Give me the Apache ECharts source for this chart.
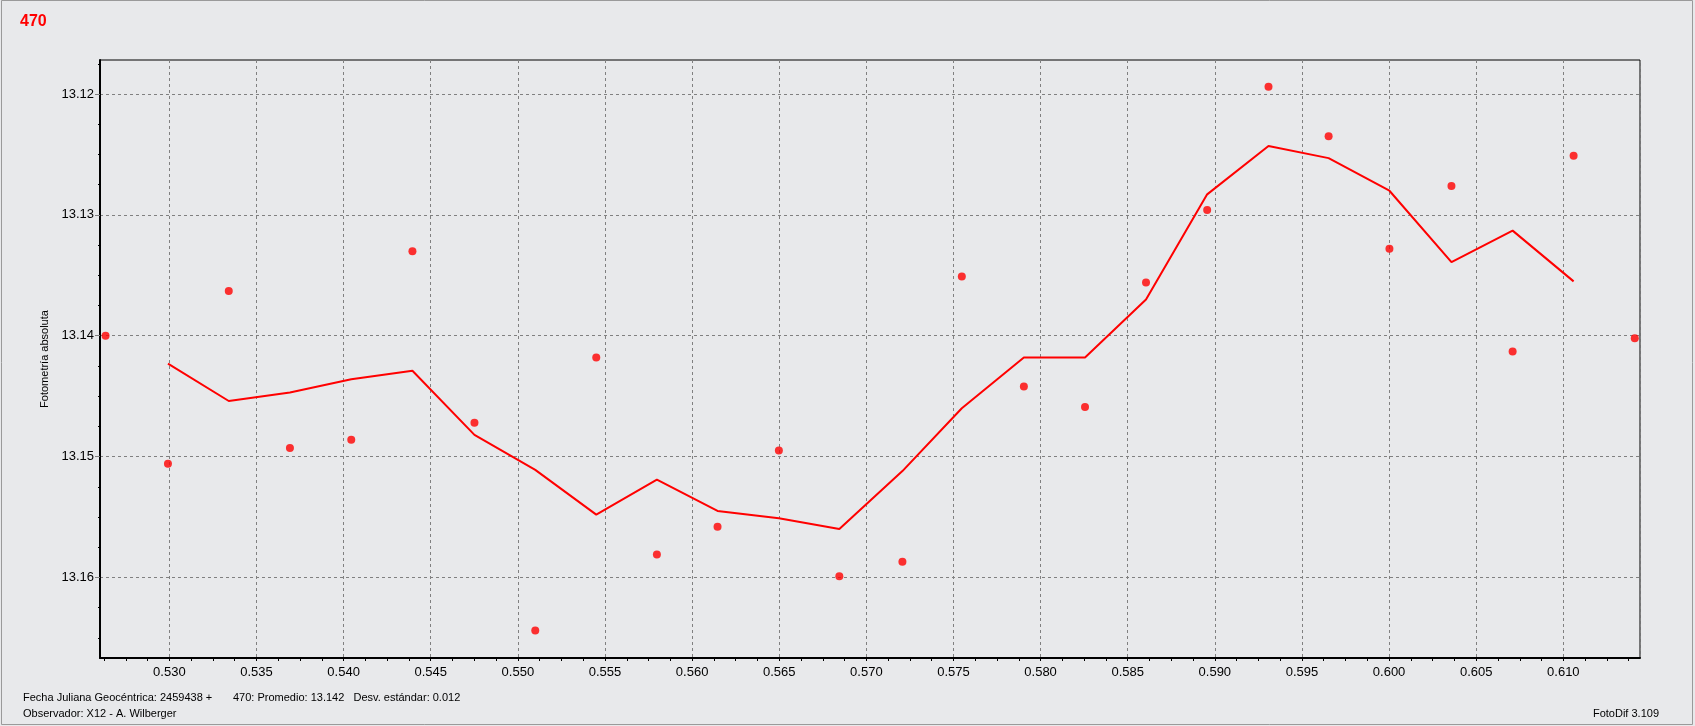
<!DOCTYPE html>
<html>
<head>
<meta charset="utf-8">
<style>
  html, body { margin: 0; padding: 0; background: #E8E9EB; }
  #chart { width: 1695px; height: 726px; }
</style>
<script src="https://cdn.jsdelivr.net/npm/echarts@6/dist/echarts.min.js"></script>
</head>
<body>
<div id="chart"></div>
<script>
// ---- data ----
const pointX = [0.52634, 0.52992, 0.53341, 0.53692, 0.54044, 0.54395, 0.54751, 0.55100, 0.55450, 0.55798,
                0.56146, 0.56498, 0.56845, 0.57207, 0.57548, 0.57904, 0.58255, 0.58605, 0.58956, 0.59308,
                0.59653, 0.60002, 0.60358, 0.60709, 0.61059, 0.61410];
const pointY = [13.1400, 13.1506, 13.1363, 13.1493, 13.1486, 13.1330, 13.1472, 13.1644, 13.1418, 13.1581,
                13.1558, 13.1495, 13.1599, 13.1587, 13.1351, 13.1442, 13.1459, 13.1356, 13.1296, 13.1194,
                13.1235, 13.1328, 13.1276, 13.1413, 13.1251, 13.1402];
const lineX = [0.52992, 0.53341, 0.53692, 0.54044, 0.54395, 0.54751, 0.55100, 0.55450, 0.55798, 0.56146,
               0.56498, 0.56845, 0.57207, 0.57548, 0.57904, 0.58255, 0.58605, 0.58956, 0.59308, 0.59653,
               0.60002, 0.60358, 0.60709, 0.61059];
const lineY = [13.1423, 13.1454, 13.1447, 13.1436, 13.1429, 13.1482, 13.1511, 13.1548, 13.1519, 13.1545,
               13.1551, 13.1560, 13.1512, 13.1460, 13.1418, 13.1418, 13.1370, 13.1283, 13.1243, 13.1253,
               13.1280, 13.1339, 13.1313, 13.1355];
const xTickLabels = [0.530, 0.535, 0.540, 0.545, 0.550, 0.555, 0.560, 0.565, 0.570, 0.575,
                     0.580, 0.585, 0.590, 0.595, 0.600, 0.605, 0.610];
const yTickLabels = [13.12, 13.13, 13.14, 13.15, 13.16];
const xMinorTicks = [0.52625, 0.5275, 0.52875, 0.530, 0.53125, 0.5325, 0.53375, 0.535, 0.53625, 0.5375, 0.53875,
  0.540, 0.54125, 0.5425, 0.54375, 0.545, 0.54625, 0.5475, 0.54875, 0.550, 0.55125, 0.5525, 0.55375,
  0.555, 0.55625, 0.5575, 0.55875, 0.560, 0.56125, 0.5625, 0.56375, 0.565, 0.56625, 0.5675, 0.56875,
  0.570, 0.57125, 0.5725, 0.57375, 0.575, 0.57625, 0.5775, 0.57875, 0.580, 0.58125, 0.5825, 0.58375,
  0.585, 0.58625, 0.5875, 0.58875, 0.590, 0.59125, 0.5925, 0.59375, 0.595, 0.59625, 0.5975, 0.59875,
  0.600, 0.60125, 0.6025, 0.60375, 0.605, 0.60625, 0.6075, 0.60875, 0.610, 0.61125, 0.6125, 0.61375];
const yMinorTicks = [13.1175, 13.1225, 13.125, 13.1275, 13.1325, 13.135, 13.1375, 13.1425, 13.145, 13.1475,
  13.1525, 13.155, 13.1575, 13.1625, 13.165];

const X_MIN = 0.52602, X_MAX = 0.6144;
const Y_MIN = 13.11718, Y_MAX = 13.16667;

const FONT = 'Liberation Sans, Arial, sans-serif';
const chart = echarts.init(document.getElementById('chart'), null, { renderer: 'canvas' });

const scatterData = pointX.map((x, i) => [x, pointY[i]]);
const lineData = lineX.map((x, i) => [x, lineY[i]]);

const option = {
  backgroundColor: '#E8E9EB',
  animation: false,
  title: {
    text: '470',
    left: 15, top: 9,
    textStyle: { color: '#FF0000', fontSize: 16, fontWeight: 'bold', fontFamily: FONT }
  },
  grid: {
    left: 100, top: 60, width: 1540, height: 598,
    show: true, borderColor: '#000', borderWidth: 1, backgroundColor: 'transparent'
  },
  xAxis: [
    {
      type: 'value', min: X_MIN, max: X_MAX, splitNumber: 18,
      axisLine: { show: true, onZero: false, lineStyle: { color: '#000', width: 2 } },
      axisTick: { show: false },
      axisLabel: {
        customValues: xTickLabels,
        formatter: v => Number(v).toFixed(3),
        color: '#000', fontSize: 13, fontFamily: FONT, margin: 8
      },
      splitLine: { show: true, lineStyle: { color: '#808080', width: 1, type: [3, 3] } }
    },
    {
      type: 'value', min: X_MIN, max: X_MAX, position: 'bottom',
      axisLine: { show: false, onZero: false },
      axisLabel: { show: false },
      splitLine: { show: false },
      axisTick: { show: true, customValues: xMinorTicks, length: 3, lineStyle: { color: '#000', width: 1 } }
    }
  ],
  yAxis: [
    {
      type: 'value', inverse: true, min: Y_MIN, max: Y_MAX, splitNumber: 5,
      name: 'Fotometría absoluta', nameLocation: 'middle', nameGap: 43, nameRotate: 90,
      nameTextStyle: { color: '#000', fontSize: 11, fontFamily: FONT },
      axisLine: { show: true, onZero: false, lineStyle: { color: '#000', width: 2 } },
      axisTick: { show: true, customValues: yTickLabels, length: 5, lineStyle: { color: '#808080', width: 1 } },
      axisLabel: {
        customValues: yTickLabels,
        formatter: v => Number(v).toFixed(2),
        color: '#000', fontSize: 13, fontFamily: FONT, margin: 6
      },
      splitLine: { show: true, lineStyle: { color: '#808080', width: 1, type: [3, 3] } }
    },
    {
      type: 'value', inverse: true, min: Y_MIN, max: Y_MAX, position: 'left',
      axisLine: { show: false, onZero: false },
      axisLabel: { show: false },
      splitLine: { show: false },
      axisTick: { show: true, customValues: yMinorTicks, length: 2, lineStyle: { color: '#000', width: 1 } }
    }
  ],
  series: [
    {
      name: 'media', type: 'line', xAxisIndex: 0, yAxisIndex: 0,
      data: lineData, showSymbol: false, symbol: 'none',
      lineStyle: { color: '#FF0000', width: 2 }, z: 3
    },
    {
      name: '470', type: 'scatter', xAxisIndex: 0, yAxisIndex: 0,
      data: scatterData, symbol: 'circle', symbolSize: 8,
      itemStyle: { color: '#FF0000' }, z: 4
    }
  ],
  graphic: [
    { type: 'rect', silent: true, shape: { x: 1.5, y: 0.5, width: 1691, height: 724 },
      style: { fill: 'none', stroke: '#9A9A9A', lineWidth: 1 } },
    { type: 'text', left: 23, top: 692,
      style: { text: 'Fecha Juliana Geocéntrica: 2459438 +', fill: '#000', font: '11px ' + FONT } },
    { type: 'text', left: 233, top: 692,
      style: { text: '470: Promedio: 13.142   Desv. estándar: 0.012', fill: '#000', font: '11px ' + FONT } },
    { type: 'text', left: 23, top: 708,
      style: { text: 'Observador: X12 - A. Wilberger', fill: '#000', font: '11px ' + FONT } },
    { type: 'text', right: 36, top: 708,
      style: { text: 'FotoDif 3.109', fill: '#000', font: '11px ' + FONT } }
  ]
};
chart.setOption(option);
</script>
</body>
</html>
